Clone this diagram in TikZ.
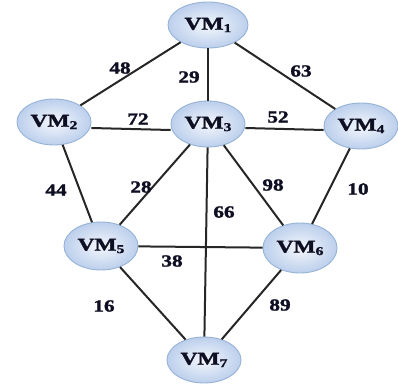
\documentclass[tikz,border=0pt]{standalone}
\usepackage{fontspec}
\setmainfont{Liberation Serif}[BoldFeatures={FakeBold=1.5}]
\usetikzlibrary{shapes.geometric}

\definecolor{vmborder}{RGB}{150,178,215}
\definecolor{vmouter}{RGB}{188,207,236}
\definecolor{vminner}{RGB}{244,247,252}
\definecolor{vmtext}{RGB}{15,15,35}

% node text: bold, a little wider than high
\newcommand{\vmname}[1]{\scalebox{1.3}[1]{\bfseries VM\raisebox{-0.3ex}{\fontsize{12}{12}\selectfont #1}}}
\newcommand{\wlabel}[1]{\scalebox{1.25}[1]{\bfseries #1}}

\tikzset{
  vm/.style={ellipse, draw=vmborder, line width=0.9pt, inner color=vminner,
    outer color=vmouter, minimum width=74pt, minimum height=46pt, inner sep=0pt,
    text=vmtext, font=\fontsize{18}{18}\selectfont},
  link/.style={line width=2pt, black!85},
  weight/.style={text=vmtext, font=\fontsize{17}{17}\selectfont}
}

\begin{document}
\begin{tikzpicture}[x=1pt, y=-1pt]

  \useasboundingbox (0,0) rectangle (398,385);

  % virtual machines
  \node[vm, minimum width=80pt] (v1) at (208,25)  {\vmname{1}};
  \node[vm] (v2) at (54,122)  {\vmname{2}};
  \node[vm] (v3) at (208,124) {\vmname{3}};
  \node[vm] (v4) at (361,126) {\vmname{4}};
  \node[vm, minimum height=48pt] (v5) at (101,246) {\vmname{5}};
  \node[vm, minimum height=50pt] (v6) at (300,248) {\vmname{6}};
  \node[vm] (v7) at (204,360) {\vmname{7}};

  % links
  \draw[link] (v1) -- (v2);
  \draw[link] (v1) -- (v3);
  \draw[link] (v1) -- (v4);
  \draw[link] ([yshift=-6pt]v2.east) -- ([yshift=-6pt]v3.west);
  \draw[link] ([yshift=-4pt]v3.east) -- ([yshift=-4pt]v4.west);
  \draw[link] (v2) -- (v5);
  \draw[link] (v3) -- (v5);
  \draw[link] (v3) -- (v6);
  \draw[link] (v3) -- (v7);
  \draw[link] (v4) -- (v6);
  \draw[link] (v5) -- (v6);
  \draw[link] (v5) -- (v7);
  \draw[link] (v6) -- (v7);

  % link weights
  \node[weight] (w12) at (120,68)  {\wlabel{48}};
  \node[weight] (w13) at (189,77)  {\wlabel{29}};
  \node[weight] (w14) at (301,71)  {\wlabel{63}};
  \node[weight] (w23) at (138,119) {\wlabel{72}};
  \node[weight] (w34) at (278,117) {\wlabel{52}};
  \node[weight] (w25) at (56,190)  {\wlabel{44}};
  \node[weight] (w35) at (141,187) {\wlabel{28}};
  \node[weight] (w36) at (273,185) {\wlabel{98}};
  \node[weight] (w46) at (358,189) {\wlabel{10}};
  \node[weight] (w37) at (224,212) {\wlabel{66}};
  \node[weight] (w56) at (172,261) {\wlabel{38}};
  \node[weight] (w57) at (104,306) {\wlabel{16}};
  \node[weight] (w67) at (280,305) {\wlabel{89}};

\end{tikzpicture}
\end{document}
